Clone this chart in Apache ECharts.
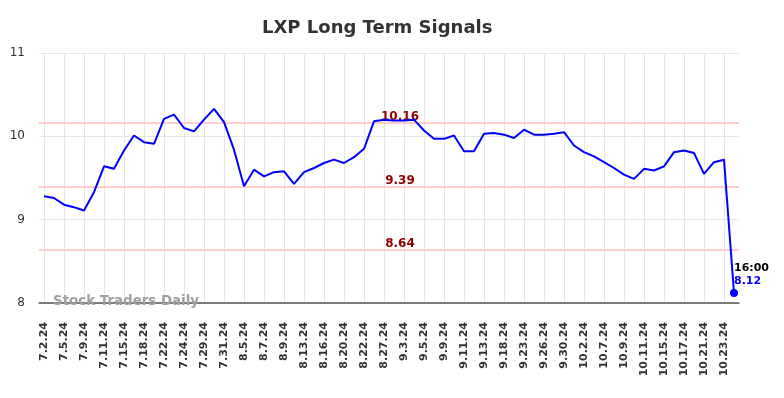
<!DOCTYPE html>
<html>
<head>
<meta charset="utf-8">
<script src="https://cdn.jsdelivr.net/npm/echarts@6/dist/echarts.min.js"></script>
<style>
  html, body { margin: 0; padding: 0; background: #fff; }
  #chart { width: 784px; height: 398px; }
</style>
</head>
<body>
<div id="chart"></div>
<script>
// dates (trading days); only every other one is labelled
var dates = [
  '7.2.24', '7.3.24', '7.5.24', '7.8.24', '7.9.24', '7.10.24', '7.11.24', '7.12.24',
  '7.15.24', '7.17.24', '7.18.24', '7.19.24', '7.22.24', '7.23.24', '7.24.24', '7.26.24',
  '7.29.24', '7.30.24', '7.31.24', '8.2.24', '8.5.24', '8.6.24', '8.7.24', '8.8.24',
  '8.9.24', '8.12.24', '8.13.24', '8.15.24', '8.16.24', '8.19.24', '8.20.24', '8.21.24',
  '8.22.24', '8.26.24', '8.27.24', '8.29.24', '9.3.24', '9.4.24', '9.5.24', '9.6.24',
  '9.9.24', '9.10.24', '9.11.24', '9.12.24', '9.13.24', '9.17.24', '9.18.24', '9.20.24',
  '9.23.24', '9.25.24', '9.26.24', '9.27.24', '9.30.24', '10.1.24', '10.2.24', '10.4.24',
  '10.7.24', '10.8.24', '10.9.24', '10.10.24', '10.11.24', '10.14.24', '10.15.24', '10.16.24',
  '10.17.24', '10.18.24', '10.21.24', '10.22.24', '10.23.24', '10.24.24'
];

// closing prices
var prices = [
  9.28, 9.26, 9.18, 9.15, 9.11, 9.33, 9.64, 9.61, 9.83, 10.01,
  9.93, 9.91, 10.21, 10.26, 10.10, 10.06, 10.20, 10.33, 10.17, 9.84,
  9.40, 9.60, 9.52, 9.57, 9.58, 9.43, 9.57, 9.62, 9.68, 9.72,
  9.68, 9.75, 9.85, 10.18, 10.20, 10.19, 10.19, 10.20, 10.07, 9.97,
  9.97, 10.01, 9.82, 9.82, 10.03, 10.04, 10.02, 9.98, 10.08, 10.02,
  10.02, 10.03, 10.05, 9.89, 9.81, 9.76, 9.69, 9.62, 9.54, 9.49,
  9.61, 9.59, 9.64, 9.81, 9.83, 9.80, 9.55, 9.69, 9.72, 8.12
];

// signal levels
var signalLevels = [10.16, 9.39, 8.64];

var lastTime = '16:00';
var yTicks = { min: 8, max: 11, step: 1 };

var myChart = echarts.init(document.getElementById('chart'));

var lastIdx = prices.length - 1;
var seriesData = prices.map(function (v, i) {
  if (i !== lastIdx) return v;
  return {
    value: v,
    symbol: 'circle',
    symbolSize: 8,
    itemStyle: { color: '#0000ff' },
    label: {
      show: true,
      position: [4, -27],
      align: 'left',
      verticalAlign: 'top',
      formatter: '{t|' + lastTime + '}\n{v|' + v.toFixed(2) + '}',
      rich: {
        t: { color: '#000', fontWeight: 'bold', fontSize: 11, lineHeight: 13, fontFamily: 'DejaVu Sans' },
        v: { color: '#0000ff', fontWeight: 'bold', fontSize: 11, lineHeight: 13, fontFamily: 'DejaVu Sans' }
      }
    }
  };
});

var option = {
  animation: false,
  backgroundColor: '#fff',
  title: {
    text: 'LXP Long Term Signals',
    left: 257,
    top: 14,
    textStyle: { fontFamily: 'DejaVu Sans', fontSize: 18, fontWeight: 'bold', color: '#333' }
  },
  grid: { left: 39, right: 45, top: 53, bottom: 95, containLabel: false },
  xAxis: {
    type: 'category',
    data: dates,
    boundaryGap: true,
    axisLine: { show: true, lineStyle: { color: '#555', width: 1.5 } },
    axisTick: { show: false },
    axisLabel: {
      interval: 1,
      rotate: 90,
      margin: 19,
      fontFamily: 'DejaVu Sans',
      fontSize: 11,
      fontWeight: 'bold',
      color: '#333'
    },
    splitLine: { show: true, interval: 1, alignWithLabel: true, lineStyle: { color: '#e6e6e6', width: 1 } }
  },
  yAxis: {
    type: 'value',
    min: yTicks.min,
    max: yTicks.max,
    interval: yTicks.step,
    axisLine: { show: false },
    axisTick: { show: false },
    axisLabel: { margin: 14, fontFamily: 'DejaVu Sans', fontSize: 12, color: '#333' },
    splitLine: { lineStyle: { color: '#e6e6e6', width: 1 } }
  },
  graphic: [{
    type: 'text',
    left: 53,
    top: 295,
    z: 10,
    style: {
      text: 'Stock Traders Daily',
      fill: '#a0a0a0',
      font: 'bold 13.4px "DejaVu Sans"'
    }
  }],
  series: [{
    type: 'line',
    data: seriesData,
    showSymbol: true,
    symbol: 'none',
    lineStyle: { color: '#0000ff', width: 2 },
    itemStyle: { color: '#0000ff' },
    z: 3,
    markLine: {
      silent: true,
      symbol: 'none',
      z: 1,
      lineStyle: { color: '#ffcccc', width: 2, type: 'solid' },
      label: {
        show: true,
        position: 'insideMiddleTop',
        offset: [11, 3],
        distance: 3,
        fontFamily: 'DejaVu Sans',
        fontSize: 12,
        fontWeight: 'bold',
        color: '#8b0000',
        formatter: function (p) { return p.value.toFixed(2); }
      },
      data: signalLevels.map(function (v) { return { yAxis: v }; })
    }
  }]
};

myChart.setOption(option);
</script>
</body>
</html>
